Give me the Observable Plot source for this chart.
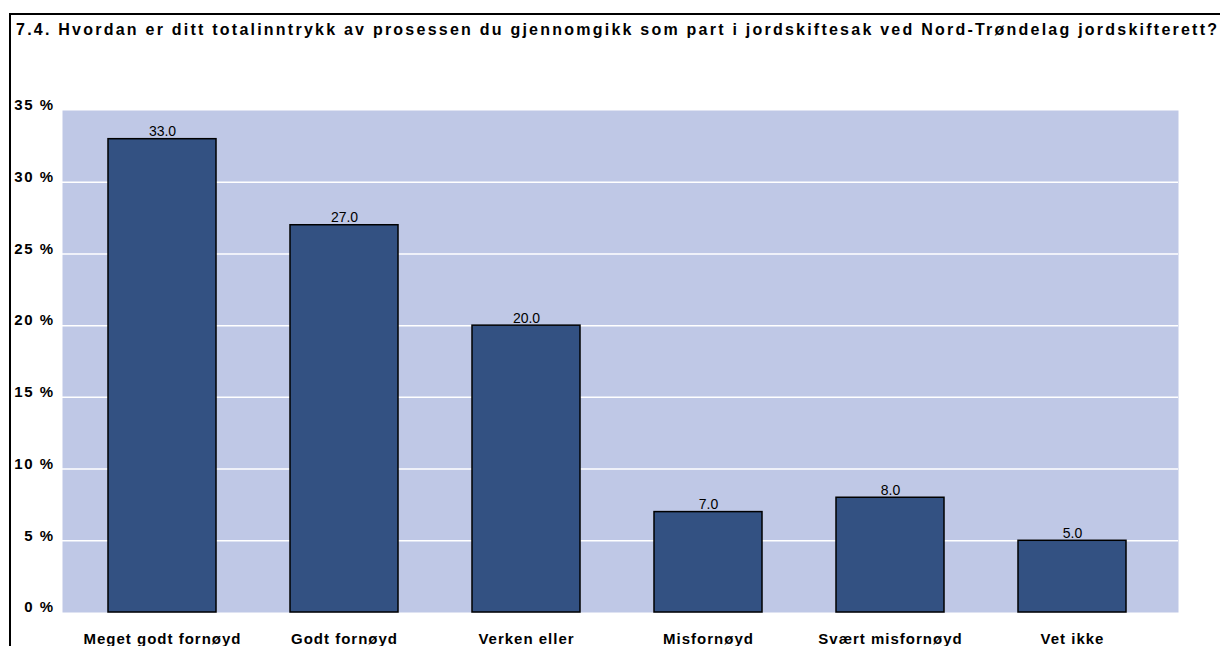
<!DOCTYPE html>
<html>
<head>
<meta charset="utf-8">
<script src="https://cdn.jsdelivr.net/npm/d3@7"></script>
<script src="https://cdn.jsdelivr.net/npm/@observablehq/plot@0.6"></script>
<style>
  html, body { margin: 0; padding: 0; background: #fff; overflow: hidden; }
  #wrap { position: relative; width: 1220px; height: 646px; font-family: "Liberation Sans", Arial, sans-serif; }
  #border { position: absolute; left: 9px; top: 12.5px; width: 1300px; height: 700px; border-left: 2px solid #000; border-top: 2px solid #000; }
  #title { position: absolute; left: 16px; top: 21.5px; font-size: 16px; line-height: 16px; font-weight: bold; white-space: nowrap; color: #000; }
  #chart { position: absolute; left: 0; top: 90px; }
  #chart svg { overflow: visible; }
</style>
</head>
<body>
<div id="wrap">
  <div id="border"></div>
  <div id="title"></div>
  <div id="chart"></div>
</div>
<script>
const titleText = "7.4. Hvordan er ditt totalinntrykk av prosessen du gjennomgikk som part i jordskiftesak ved Nord-Trøndelag jordskifterett?";
const categories = ["Meget godt fornøyd", "Godt fornøyd", "Verken eller", "Misfornøyd", "Svært misfornøyd", "Vet ikke"];
const values = [33.0, 27.0, 20.0, 7.0, 8.0, 5.0];
const yTicks = [0, 5, 10, 15, 20, 25, 30, 35];
const gridTicks = [5, 10, 15, 20, 25, 30];

const data = categories.map((c, i) => ({category: c, value: values[i]}));

// title, stretched like the reference
const titleEl = document.getElementById("title");
titleEl.textContent = titleText;
const ctx = document.createElement("canvas").getContext("2d");
ctx.font = "bold 16px 'Liberation Sans'";
const tw = ctx.measureText(titleText).width;
titleEl.style.letterSpacing = Math.max(0, (1201 - tw) / (titleText.length - 1)) + "px";

const chart = Plot.plot({
  width: 1220,
  height: 556,
  marginTop: 20,
  marginBottom: 34,
  marginLeft: 62,
  marginRight: 42,
  insetLeft: 9,
  insetRight: 15,
  style: {fontFamily: "'Liberation Sans', Arial, sans-serif", background: "transparent"},
  x: {domain: categories, paddingInner: 0.407, paddingOuter: 0.2035, label: null},
  y: {domain: [0, 35], label: null},
  marks: [
    Plot.frame({fill: "#BFC8E6", stroke: null}),
    Plot.ruleY(gridTicks, {stroke: "#fff", strokeWidth: 1.5}),
    Plot.barY(data, {x: "category", y: "value", fill: "#335182", stroke: "#000", strokeWidth: 1.5}),
    Plot.text(data, {x: "category", y: "value", text: d => d.value.toFixed(1), dy: -7.5, fontSize: 14, fill: "#000", style: "letter-spacing:1px"}),
    Plot.axisY(yTicks, {tickSize: 0, tickPadding: 8, tickFormat: d => d + " %", fontSize: 15, fontWeight: "bold", fill: "#000", dy: -5, label: null}),
    Plot.axisX({tickSize: 0, tickPadding: 21, fontSize: 15, fontWeight: "bold", fill: "#000", label: null})
  ]
});
document.getElementById("chart").appendChild(chart);
// letter-spacing for stretched labels
d3.select(chart).selectAll("[aria-label='x-axis tick label'] text").style("letter-spacing", "1px");
d3.select(chart).selectAll("[aria-label='y-axis tick label'] text").style("letter-spacing", "1.5px");
</script>
</body>
</html>
